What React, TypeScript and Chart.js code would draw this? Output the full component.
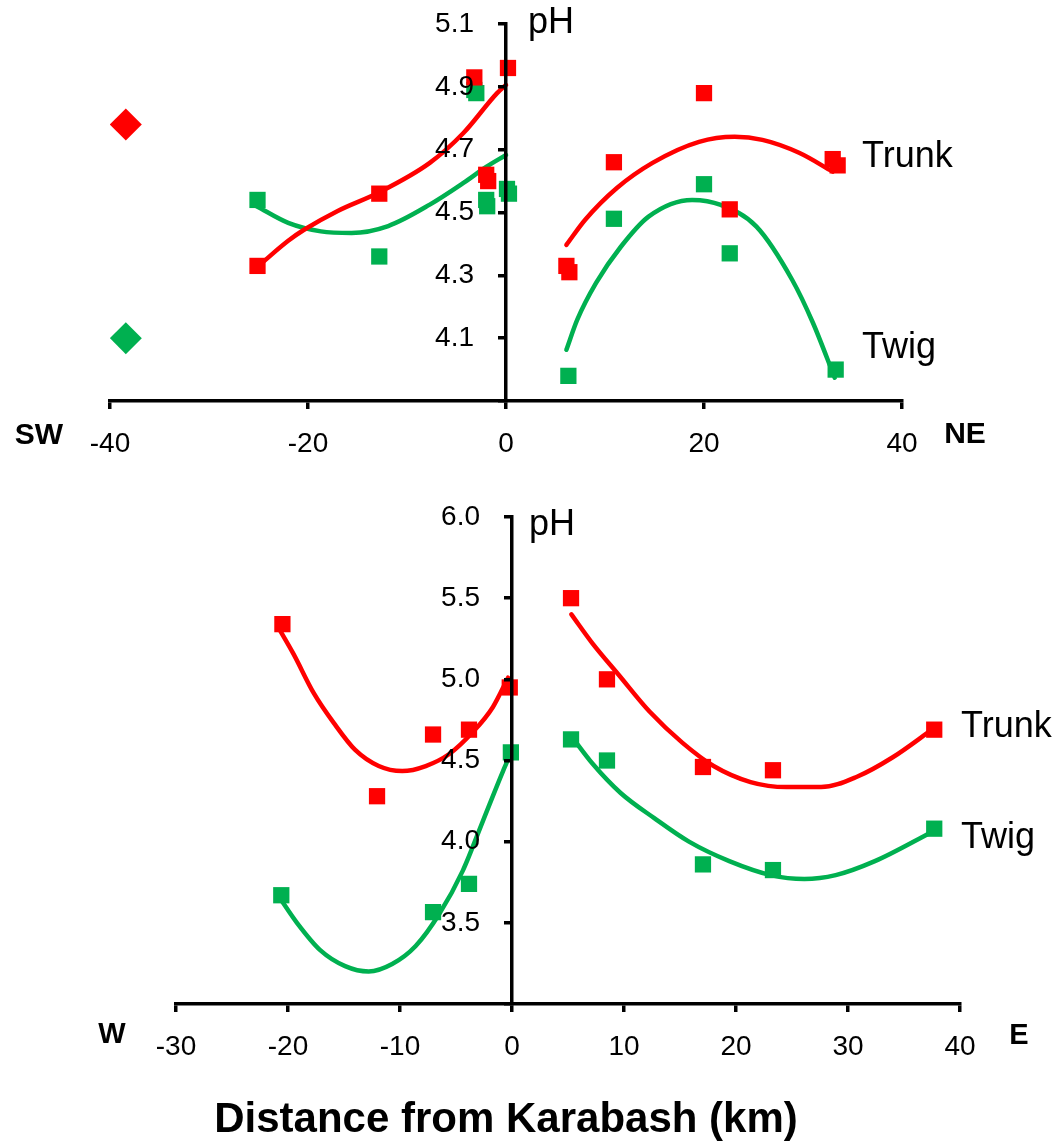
import React, { useEffect, useRef } from 'react';
import { Chart, registerables } from 'chart.js';

Chart.register(...registerables);

const RED = '#FF0000';
const GREEN = '#00B050';
const FONT = '"Liberation Sans", Arial, Helvetica, sans-serif';

// ---------- Top panel (SW - NE transect) ----------
const topXTicks = [-40, 40, 20]; // min, max, step
const topYTicks = [3.9, 5.1, 0.2];

const topTrunkX = [-25.1, -12.8, -3.2, -2.0, -1.8, 0.2, 6.1, 6.4, 10.9, 20.0, 22.6, 33.0, 33.5];
const topTrunkY = [4.33, 4.56, 4.93, 4.62, 4.6, 4.96, 4.33, 4.31, 4.66, 4.88, 4.51, 4.67, 4.65];

const topTwigX = [-25.1, -12.8, -3.2, -3.0, -2.0, -1.9, 0.1, 0.3, 6.3, 10.9, 20.0, 22.6, 33.3];
const topTwigY = [4.54, 4.36, 4.89, 4.88, 4.54, 4.52, 4.575, 4.56, 3.98, 4.48, 4.59, 4.37, 4.0];

const bgX = [-38.4];
const bgTrunkY = [4.78];
const bgTwigY = [4.1];

const trunkTrendSWX = [-25, -22, -20.4, -17, -12.9, -7.7, -4.3, -0.9, 0];
const trunkTrendSWY = [4.33, 4.41, 4.445, 4.505, 4.563, 4.658, 4.753, 4.88, 4.906];
const twigTrendSWX = [-25.2, -22, -18.7, -15.6, -11.9, -7.7, -4.3, -2, 0];
const twigTrendSWY = [4.52, 4.467, 4.44, 4.435, 4.457, 4.525, 4.594, 4.645, 4.683];

const trunkTrendNEX = [6.1, 8.0, 11.2, 14.8, 19.5, 23.1, 25.9, 29.6, 33.0];
const trunkTrendNEY = [4.397, 4.477, 4.578, 4.658, 4.725, 4.741, 4.731, 4.69, 4.63];
const twigTrendNEX = [6.1, 7.2, 9.1, 11.6, 14.4, 18.8, 21.7, 25.3, 28.9, 31.0, 33.2];
const twigTrendNEY = [4.063, 4.159, 4.276, 4.391, 4.487, 4.54, 4.524, 4.455, 4.286, 4.149, 3.974];

// ---------- Bottom panel (W - E transect) ----------
const botXTicks = [-30, 40, 10];
const botYTicks = [3.0, 6.0, 0.5];

const botTrunkX = [-20.5, -12.05, -7.05, -3.84, -0.2, 5.27, 8.48, 17.05, 23.3, 37.7];
const botTrunkY = [5.34, 4.28, 4.66, 4.69, 4.95, 5.5, 5.0, 4.46, 4.44, 4.69];

const botTwigX = [-20.6, -7.05, -3.84, -0.1, 5.27, 8.48, 17.05, 23.3, 37.7];
const botTwigY = [3.67, 3.566, 3.74, 4.55, 4.63, 4.5, 3.86, 3.825, 4.08];

const trunkTrendWX = [-20.7, -19.5, -17.7, -15.9, -14.0, -11.9, -9.8, -7.7, -5.6, -3.5, -1.7, -0.35];
const trunkTrendWY = [5.3, 5.155, 4.915, 4.73, 4.565, 4.466, 4.435, 4.466, 4.54, 4.675, 4.83, 5.01];
const twigTrendWX = [-20.7, -19.2, -17.1, -14.9, -12.8, -10.7, -8.6, -6.5, -4.4, -2.6, -0.8, 0];
const twigTrendWY = [3.65, 3.5, 3.33, 3.233, 3.2, 3.246, 3.357, 3.554, 3.82, 4.127, 4.435, 4.56];

const trunkTrendEX = [5.3, 7.2, 9.5, 12.3, 15.2, 18.0, 21.3, 24.5, 27.6, 30.8, 34.0, 37.5];
const trunkTrendEY = [5.4, 5.22, 5.03, 4.8, 4.61, 4.466, 4.367, 4.336, 4.336, 4.4, 4.52, 4.69];
const twigTrendEX = [5.3, 7.2, 9.7, 12.7, 15.8, 19.4, 23.1, 26.1, 28.9, 32.4, 37.5];
const twigTrendEY = [4.65, 4.48, 4.3, 4.145, 4.0, 3.88, 3.794, 3.77, 3.794, 3.88, 4.06];

const pts = (xs: number[], ys: number[]) => xs.map((x, i) => ({ x, y: ys[i] }));

const squares = (label: string, xs: number[], ys: number[], color: string) => ({
  label,
  data: pts(xs, ys),
  pointStyle: 'rect',
  pointRadius: 11.5,
  pointBackgroundColor: color,
  pointBorderColor: color,
  pointBorderWidth: 0,
  showLine: false,
});

const diamond = (label: string, xs: number[], ys: number[], color: string) => ({
  label,
  data: pts(xs, ys),
  pointStyle: 'rectRot',
  pointRadius: 16,
  pointBackgroundColor: color,
  pointBorderColor: color,
  pointBorderWidth: 0,
  showLine: false,
});

const trend = (label: string, xs: number[], ys: number[], color: string) => ({
  label,
  data: pts(xs, ys),
  showLine: true,
  borderColor: color,
  borderWidth: 4.5,
  pointRadius: 0,
  fill: false,
  cubicInterpolationMode: 'monotone',
  borderCapStyle: 'round',
});

const topDatasets = [
  squares('Trunk', topTrunkX, topTrunkY, RED),
  squares('Twig', topTwigX, topTwigY, GREEN),
  diamond('Trunk background', bgX, bgTrunkY, RED),
  diamond('Twig background', bgX, bgTwigY, GREEN),
  trend('Trunk trend SW', trunkTrendSWX, trunkTrendSWY, RED),
  trend('Twig trend SW', twigTrendSWX, twigTrendSWY, GREEN),
  trend('Trunk trend NE', trunkTrendNEX, trunkTrendNEY, RED),
  trend('Twig trend NE', twigTrendNEX, twigTrendNEY, GREEN),
];

const botDatasets = [
  squares('Trunk', botTrunkX, botTrunkY, RED),
  squares('Twig', botTwigX, botTwigY, GREEN),
  trend('Trunk trend W', trunkTrendWX, trunkTrendWY, RED),
  trend('Twig trend W', twigTrendWX, twigTrendWY, GREEN),
  trend('Trunk trend E', trunkTrendEX, trunkTrendEY, RED),
  trend('Twig trend E', twigTrendEX, twigTrendEY, GREEN),
];

const W = 1058;
const XBOX = 72; // height reserved for the x axis ticks + labels
const YBOX = 110; // width reserved for the y axis ticks + labels

type Area = { left: number; right: number; top: number; bottom: number };
type Pad = { left: number; right: number; top: number; bottom: number };

function calibrate(chart: any, pad: Pad, want: Area, sides: (keyof Area)[]) {
  for (let i = 0; i < 4; i++) {
    const ca = chart.chartArea;
    let changed = false;
    for (const s of sides) {
      const d = want[s] - ca[s];
      if (Math.abs(d) > 0.01) {
        changed = true;
        if (s === 'left' || s === 'top') pad[s] += d;
        else pad[s] -= d;
      }
    }
    if (!changed) break;
    chart.options.layout.padding = { ...pad };
    chart.update();
  }
}

type PanelProps = {
  top: number;
  height: number;
  area: Area; // wanted chart area, in canvas pixels
  datasets: any[];
  xTicks: number[];
  yTicks: number[];
};

function Panel({ top, height, area, datasets, xTicks, yTicks }: PanelProps) {
  const refA = useRef<HTMLCanvasElement>(null);
  const refB = useRef<HTMLCanvasElement>(null);
  useEffect(() => {
    const tickFont = { family: FONT, size: 28 };
    const grid = { drawOnChartArea: false, color: '#000', lineWidth: 3.5, tickLength: 8 };
    const border = { color: '#000', width: 3.5 };

    const padA: Pad = {
      left: area.left,
      right: W - area.right,
      top: area.top,
      bottom: height - area.bottom - XBOX,
    };

    // Chart A: data + x axis (its y scale only maps the values)
    const a = new Chart(refA.current as HTMLCanvasElement, {
      type: 'scatter',
      data: { datasets },
      options: {
        responsive: false,
        animation: false,
        devicePixelRatio: 1,
        layout: { padding: { ...padA } },
        plugins: { legend: { display: false }, tooltip: { enabled: false } },
        scales: {
          x: {
            type: 'linear',
            position: 'bottom',
            min: xTicks[0],
            max: xTicks[1],
            ticks: {
              stepSize: xTicks[2],
              color: '#000',
              font: tickFont,
              padding: 18,
              maxRotation: 0,
              autoSkip: false,
              callback: (v: any) => String(Math.round(Number(v))),
            },
            grid,
            border,
            afterFit: (s: any) => {
              s.height = XBOX;
              s.paddingLeft = 0;
              s.paddingRight = 0;
            },
          },
          y: {
            type: 'linear',
            display: false,
            min: yTicks[0],
            max: yTicks[1],
          },
        },
      } as any,
    });
    calibrate(a, padA, area, ['left', 'right', 'top', 'bottom']);

    const px0 = a.scales.x.getPixelForValue(0);
    const fa = a.chartArea;
    const wantB: Area = { left: px0, right: px0 + 20, top: fa.top, bottom: fa.bottom };
    const padB: Pad = {
      left: px0 - YBOX,
      right: W - px0 - 20,
      top: fa.top,
      bottom: height - fa.bottom,
    };

    // Chart B: the y axis, crossing the x axis at distance 0
    const b = new Chart(refB.current as HTMLCanvasElement, {
      type: 'scatter',
      data: { datasets: [] },
      options: {
        responsive: false,
        animation: false,
        devicePixelRatio: 1,
        layout: { padding: { ...padB } },
        plugins: { legend: { display: false }, tooltip: { enabled: false } },
        scales: {
          x: { type: 'linear', display: false, min: -1, max: 1 },
          y: {
            type: 'linear',
            position: 'left',
            min: yTicks[0],
            max: yTicks[1],
            ticks: {
              stepSize: yTicks[2],
              color: '#000',
              font: tickFont,
              padding: 24,
              autoSkip: false,
              callback: (v: any) =>
                Math.abs(Number(v) - yTicks[0]) < 1e-6 ? '' : Number(v).toFixed(1),
            },
            grid,
            border,
            afterFit: (s: any) => {
              s.width = YBOX;
              s.paddingTop = 0;
              s.paddingBottom = 0;
            },
          },
        },
      } as any,
    });
    calibrate(b, padB, wantB, ['left', 'top', 'bottom']);

    return () => {
      a.destroy();
      b.destroy();
    };
  }, []);
  const style: React.CSSProperties = { position: 'absolute', left: 0, top, width: W, height, display: 'block' };
  return (
    <>
      <canvas ref={refA} width={W} height={height} style={style} />
      <canvas ref={refB} width={W} height={height} style={style} />
    </>
  );
}

type TxtProps = { x: number; y: number; size: number; bold?: boolean; left?: boolean; children: React.ReactNode };

function Txt({ x, y, size, bold, left, children }: TxtProps) {
  return (
    <div
      style={{
        position: 'absolute',
        left: x,
        top: y,
        transform: left ? 'translate(0,-50%)' : 'translate(-50%,-50%)',
        fontFamily: FONT,
        fontSize: size,
        fontWeight: bold ? 700 : 400,
        lineHeight: 1,
        whiteSpace: 'nowrap',
        color: '#000',
      }}
    >
      {children}
    </div>
  );
}

export default function App() {
  return (
    <div
      style={{
        position: 'absolute',
        left: 0,
        top: 0,
        width: W,
        height: 1147,
        overflow: 'hidden',
        background: '#fff',
      }}
    >
      <Panel
        top={0}
        height={480}
        area={{ left: 110, right: 902, top: 24, bottom: 401 }}
        datasets={topDatasets}
        xTicks={topXTicks}
        yTicks={topYTicks}
      />
      <Panel
        top={480}
        height={667}
        area={{ left: 176, right: 960, top: 37, bottom: 524 }}
        datasets={botDatasets}
        xTicks={botXTicks}
        yTicks={botYTicks}
      />
      <Txt x={528} y={21} size={36} left>pH</Txt>
      <Txt x={862} y={155} size={36} left>Trunk</Txt>
      <Txt x={862} y={346} size={36} left>Twig</Txt>
      <Txt x={39} y={434} size={30} bold>SW</Txt>
      <Txt x={965} y={433} size={30} bold>NE</Txt>
      <Txt x={529} y={523} size={36} left>pH</Txt>
      <Txt x={961} y={725} size={36} left>Trunk</Txt>
      <Txt x={961} y={836} size={36} left>Twig</Txt>
      <Txt x={112} y={1033} size={29} bold>W</Txt>
      <Txt x={1019} y={1034} size={29} bold>E</Txt>
      <Txt x={506} y={1118} size={42} bold>Distance from Karabash (km)</Txt>
    </div>
  );
}
